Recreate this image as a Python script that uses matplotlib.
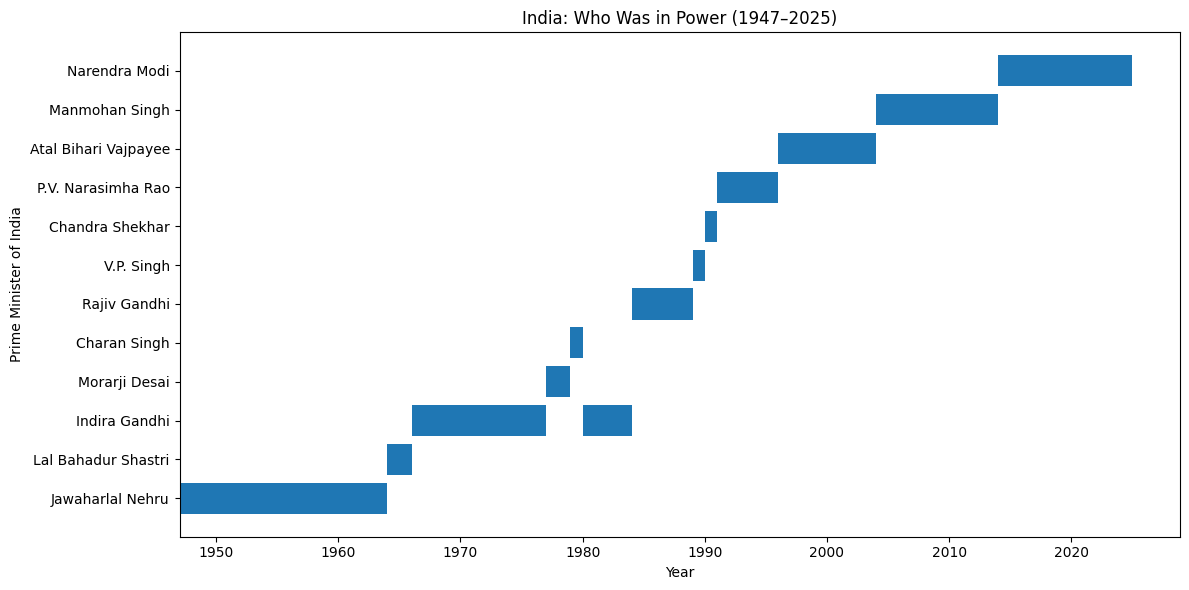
import matplotlib
matplotlib.use("Agg")
import matplotlib.pyplot as plt

# Премьер-министры (порядок снизу вверх)
leaders = [
    "Jawaharlal Nehru", "Lal Bahadur Shastri", "Indira Gandhi", "Morarji Desai",
    "Charan Singh", "Rajiv Gandhi", "V.P. Singh", "Chandra Shekhar",
    "P.V. Narasimha Rao", "Atal Bihari Vajpayee", "Manmohan Singh", "Narendra Modi",
]

# Сроки: кто, начало, конец
term_names = [
    "Jawaharlal Nehru", "Lal Bahadur Shastri", "Indira Gandhi", "Morarji Desai",
    "Charan Singh", "Indira Gandhi", "Rajiv Gandhi", "V.P. Singh",
    "Chandra Shekhar", "P.V. Narasimha Rao", "Atal Bihari Vajpayee",
    "Manmohan Singh", "Narendra Modi",
]
term_start = [1947, 1964, 1966, 1977, 1979, 1980, 1984, 1989, 1990, 1991, 1996, 2004, 2014]
term_end = [1964, 1966, 1977, 1979, 1980, 1984, 1989, 1990, 1991, 1996, 2004, 2014, 2025]

fig, ax = plt.subplots(figsize=(12, 6), dpi=100)

ypos = [leaders.index(n) for n in term_names]
widths = [e - s for s, e in zip(term_start, term_end)]
ax.barh(ypos, widths, left=term_start, color="#1f77b4")

ax.set_yticks(range(len(leaders)))
ax.set_yticklabels(leaders)
ax.set_xlim(left=1947)

ax.set_xlabel("Year")
ax.set_ylabel("Prime Minister of India")
ax.set_title("India: Who Was in Power (1947\u20132025)")

plt.tight_layout()
plt.savefig("out.png", dpi=100, bbox_inches="tight")
